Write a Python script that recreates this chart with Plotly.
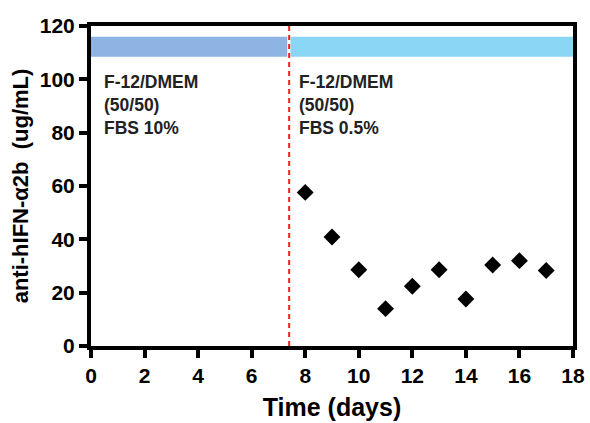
import plotly.graph_objects as go

days = [8, 9, 10, 11, 12, 13, 14, 15, 16, 17]
conc = [57.6, 40.9, 28.6, 14.0, 22.4, 28.6, 17.6, 30.4, 32.0, 28.3]

switch_day = 7.4
phase_starts = [0, 7.45]
phase_ends = [7.33, 18]
phase_colors = ["#8db4e2", "#8ad6f5"]
band_low, band_high = 108.5, 116
phase_labels = ["F-12/DMEM<br>(50/50)<br>FBS 10%", "F-12/DMEM<br>(50/50)<br>FBS 0.5%"]
label_x = [0.4, 7.7]
label_y = 103.5

x_ticks = [0, 2, 4, 6, 8, 10, 12, 14, 16, 18]
y_ticks = [0, 20, 40, 60, 80, 100, 120]

fig = go.Figure()
fig.add_trace(go.Scatter(x=days, y=conc, mode="markers",
                         marker=dict(symbol="diamond", size=13, color="black"),
                         showlegend=False))

shapes = []
for s, e, c in zip(phase_starts, phase_ends, phase_colors):
    shapes.append(dict(type="rect", xref="x", yref="y", x0=s, x1=e, y0=band_low, y1=band_high,
                       fillcolor=c, line=dict(width=0), layer="below"))
shapes.append(dict(type="line", xref="x", yref="y", x0=switch_day, x1=switch_day, y0=0, y1=120,
                   line=dict(color="#f02020", width=2, dash="5px,4px")))

annotations = []
for t, xv in zip(phase_labels, label_x):
    annotations.append(dict(x=xv, y=label_y, xref="x", yref="y", text=t, showarrow=False,
                            xanchor="left", yanchor="top", align="left",
                            font=dict(family="Arial", size=17.5, color="#222222", weight="bold")))

fig.update_layout(
    width=590, height=423,
    margin=dict(l=91, r=17, t=26, b=77, autoexpand=False),
    plot_bgcolor="white", paper_bgcolor="white",
    shapes=shapes, annotations=annotations,
    xaxis=dict(range=[0, 18], tickvals=x_ticks, showgrid=False, zeroline=False, automargin=False,
               showline=True, linecolor="black", linewidth=4, mirror=True,
               ticks="outside", ticklen=8, tickwidth=4, tickcolor="black",
               tickfont=dict(family="Arial", size=21, color="black", weight="bold"),
               title=dict(text="Time (days)", standoff=13,
                          font=dict(family="Arial", size=25, color="black", weight="bold"))),
    yaxis=dict(range=[0, 120], tickvals=y_ticks, showgrid=False, zeroline=False, automargin=False,
               showline=True, linecolor="black", linewidth=4, mirror=True,
               ticks="outside", ticklen=8, tickwidth=4, tickcolor="black",
               tickfont=dict(family="Arial", size=21, color="black", weight="bold"),
               title=dict(text="anti-hIFN-α2b  (ug/mL)", standoff=6,
                          font=dict(family="Arial", size=22, color="black", weight="bold"))),
)

fig.write_html("out.html")
